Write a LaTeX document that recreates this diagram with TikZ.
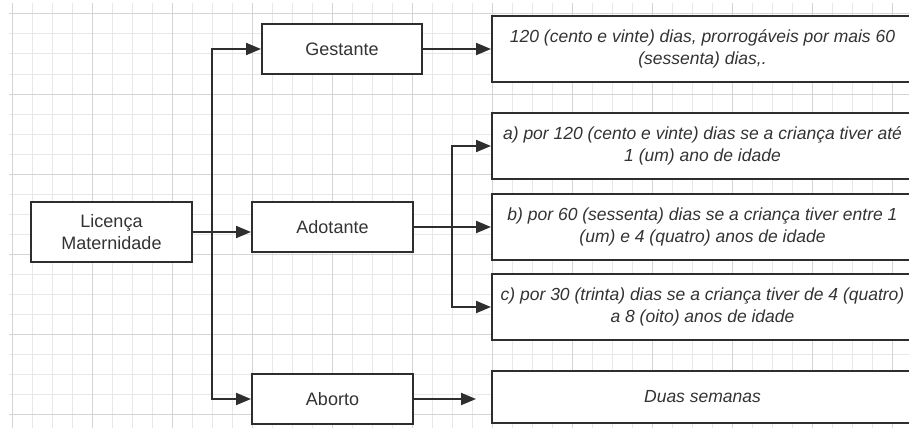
\documentclass[tikz,border=0pt]{standalone}
\usepackage{fontspec}
\setmainfont{Liberation Sans}
\usetikzlibrary{arrows.meta}
\definecolor{gridMinor}{HTML}{E8E8E8}
\definecolor{gridMajor}{HTML}{D4D4D4}
\definecolor{boxLine}{HTML}{2E2E2E}
\definecolor{textCol}{HTML}{333333}

\begin{document}
\begin{tikzpicture}[x=1pt, y=-1pt,
  boxStyle/.style={draw=boxLine, line width=2pt, fill=white, inner sep=0pt, align=center, text=textCol, font=\fontsize{18}{22.5}\selectfont},
  leftBox/.style={boxStyle, minimum width=161pt, minimum height=50pt},
  rightBox/.style={boxStyle, minimum width=421pt, minimum height=66pt, font=\fontsize{17.5}{22.5}\selectfont\itshape},
  linkStyle/.style={draw=boxLine, line width=2pt},
  arrowStyle/.style={linkStyle, -{Triangle[length=15pt, width=12pt]}}
]
\useasboundingbox (0,0) rectangle (909,428);

% background grid
\foreach \gx in {12,32,...,892} \draw[gridMinor, line width=1pt] (\gx,3) -- (\gx,428);
\foreach \gy in {14,34,...,414} \draw[gridMinor, line width=1pt] (9,\gy) -- (909,\gy);
\foreach \gx in {12,92,...,892} \draw[gridMajor, line width=1pt] (\gx,3) -- (\gx,428);
\foreach \gy in {14,94,...,414} \draw[gridMajor, line width=1pt] (9,\gy) -- (909,\gy);

% left column
\node[leftBox, minimum height=60pt] (lic) at (111.5,232) {Licença\\Maternidade};

% middle column
\node[leftBox, minimum width=160pt] (gest) at (342,49)    {Gestante};
\node[leftBox]                      (adot) at (332.5,227) {Adotante};
\node[leftBox]                      (abor) at (332.5,399) {Aborto};

% right column
\node[rightBox] (rg) at (702.5,49)  {120 (cento e vinte) dias, prorrogáveis por mais 60\\(sessenta) dias,.};
\node[rightBox] (ra) at (702.5,146) {a) por 120 (cento e vinte) dias se a criança tiver até\\1 (um) ano de idade};
\node[rightBox] (rb) at (702.5,227) {b) por 60 (sessenta) dias se a criança tiver entre 1\\(um) e 4 (quatro) anos de idade};
\node[rightBox] (rc) at (702.5,307) {c) por 30 (trinta) dias se a criança tiver de 4 (quatro)\\a 8 (oito) anos de idade};
\node[rightBox, minimum height=52pt] (rd) at (702.5,397) {Duas semanas};

% connectors
\coordinate (forkA) at (212,232);
\coordinate (forkB) at (452,227);
\coordinate (abortEnd) at (476,399);

\draw[arrowStyle] (lic.east) -- (adot.west |- lic.east);
\draw[arrowStyle] (forkA) |- (gest.west);
\draw[arrowStyle] (forkA) |- (abor.west);

\draw[arrowStyle] (gest.east) -- (rg.west);

\draw[arrowStyle] (adot.east) -- (rb.west);
\draw[arrowStyle] (forkB) |- (ra.west);
\draw[arrowStyle] (forkB) |- (rc.west);

\draw[arrowStyle] (abor.east) -- (abortEnd);
\end{tikzpicture}
\end{document}
